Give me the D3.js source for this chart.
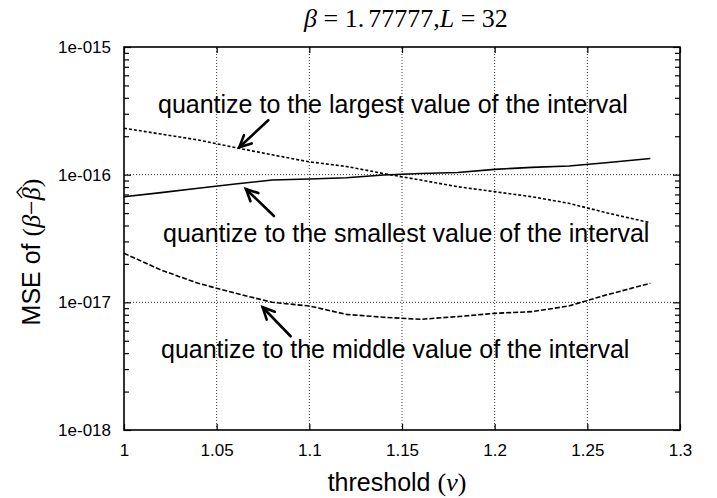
<!DOCTYPE html>
<meta charset="utf-8">
<style>
  body { margin: 0; background: #fff; }
  text { font-family: "Liberation Sans", Arial, sans-serif; fill: #000; }
  .serif { font-family: "Liberation Serif", "Times New Roman", serif; }
</style>
<script src="https://d3js.org/d3.v7.min.js"></script>
<svg id="chart" width="717" height="498"></svg>
<script>

// threshold values (x)
var thresholds = [1, 1.02, 1.04, 1.06, 1.08, 1.10, 1.12, 1.14, 1.16, 1.18, 1.20, 1.22, 1.24, 1.26, 1.284];

// MSE for each quantization rule
var largestMSE  = [2.31e-16, 2.08e-16, 1.87e-16, 1.63e-16, 1.43e-16, 1.26e-16, 1.16e-16, 1.02e-16,
                   9.08e-17, 8.05e-17, 7.36e-17, 6.72e-17, 5.97e-17, 5.04e-17, 4.2e-17];
var smallestMSE = [6.72e-17, 7.23e-17, 7.82e-17, 8.45e-17, 9.08e-17, 9.25e-17, 9.47e-17, 9.94e-17,
                   1.02e-16, 1.04e-16, 1.10e-16, 1.14e-16, 1.17e-16, 1.24e-16, 1.34e-16];
var middleMSE   = [2.42e-17, 1.79e-17, 1.41e-17, 1.18e-17, 1.0e-17, 9.36e-18, 8.05e-18, 7.64e-18,
                   7.36e-18, 7.73e-18, 8.2e-18, 8.45e-18, 9.36e-18, 1.14e-17, 1.41e-17];

var xTicks = [1, 1.05, 1.1, 1.15, 1.2, 1.25, 1.3];
var xTickLabels = ["1", "1.05", "1.1", "1.15", "1.2", "1.25", "1.3"];
var yTicks = [1e-18, 1e-17, 1e-16, 1e-15];
var yTickLabels = ["1e-018", "1e-017", "1e-016", "1e-015"];

var svg = d3.select("#chart"),
    width = +svg.attr("width"),
    height = +svg.attr("height"),
    margin = {top: 47, right: 37, bottom: 68, left: 124};

svg.append("rect").attr("width", width).attr("height", height).attr("fill", "#fff");

var x = d3.scaleLinear().domain([1, 1.3]).range([margin.left, width - margin.right]);
var y = d3.scaleLog().domain([1e-18, 1e-15]).range([height - margin.bottom, margin.top]);

var minorY = y.ticks().filter(function(v) { return yTicks.indexOf(v) < 0; });

// grid
var grid = svg.append("g").attr("stroke", "#000").attr("stroke-width", 0.8).attr("stroke-dasharray", "1,2");
grid.selectAll(".gx").data(xTicks.slice(1, -1)).enter().append("line")
    .attr("x1", function(d) { return x(d); }).attr("x2", function(d) { return x(d); })
    .attr("y1", y.range()[0]).attr("y2", y.range()[1]);
grid.selectAll(".gy").data(yTicks.slice(1, -1)).enter().append("line")
    .attr("y1", function(d) { return y(d); }).attr("y2", function(d) { return y(d); })
    .attr("x1", x.range()[0]).attr("x2", x.range()[1]);

// axes, ticks inside like matlab
function styleAxis(g) {
  g.select(".domain").remove();
  g.selectAll("line").attr("stroke", "#000").attr("stroke-width", 1.2);
  g.selectAll("text").style("font-size", "17px");
}

svg.append("g").attr("transform", "translate(0," + y.range()[0] + ")")
   .call(d3.axisBottom(x).tickValues(xTicks).tickSizeInner(-6).tickPadding(14)
         .tickFormat(function(d, i) { return xTickLabels[i]; }))
   .call(styleAxis);
svg.append("g").attr("transform", "translate(0," + y.range()[1] + ")")
   .call(d3.axisTop(x).tickValues(xTicks).tickSizeInner(-6).tickFormat(""))
   .call(styleAxis);

svg.append("g").attr("transform", "translate(" + x.range()[0] + ",0)")
   .call(d3.axisLeft(y).tickValues(yTicks).tickSizeInner(-7).tickPadding(13)
         .tickFormat(function(d, i) { return yTickLabels[i]; }))
   .call(styleAxis);
svg.append("g").attr("transform", "translate(" + x.range()[0] + ",0)")
   .call(d3.axisLeft(y).tickValues(minorY).tickSizeInner(-5).tickFormat(""))
   .call(styleAxis);
svg.append("g").attr("transform", "translate(" + x.range()[1] + ",0)")
   .call(d3.axisRight(y).tickValues(yTicks).tickSizeInner(-7).tickFormat(""))
   .call(styleAxis);
svg.append("g").attr("transform", "translate(" + x.range()[1] + ",0)")
   .call(d3.axisRight(y).tickValues(minorY).tickSizeInner(-5).tickFormat(""))
   .call(styleAxis);

// box
svg.append("rect")
   .attr("x", x.range()[0]).attr("y", y.range()[1])
   .attr("width", x.range()[1] - x.range()[0]).attr("height", y.range()[0] - y.range()[1])
   .attr("fill", "none").attr("stroke", "#000").attr("stroke-width", 1.6);

// curves
var series = [
  {values: largestMSE,  dash: "3,2"},
  {values: smallestMSE, dash: null},
  {values: middleMSE,   dash: "5,2"}
];
var line = d3.line()
    .x(function(d) { return x(d[0]); })
    .y(function(d) { return y(d[1]); });

svg.selectAll(".curve").data(series).enter().append("path")
   .attr("class", "curve")
   .attr("fill", "none").attr("stroke", "#000").attr("stroke-width", 1.6)
   .attr("stroke-dasharray", function(d) { return d.dash; })
   .attr("d", function(d) { return line(d3.zip(thresholds, d.values)); });

// annotations
var notes = [
  {text: "quantize to the largest value of the interval",  tx: 158, ty: 113, tip: [1.0622, 1.64e-16], tail: [29, -27]},
  {text: "quantize to the smallest value of the interval", tx: 163, ty: 242, tip: [1.0658, 7.72e-17], tail: [28, 27]},
  {text: "quantize to the middle value of the interval",   tx: 161, ty: 358, tip: [1.0748, 9.15e-18], tail: [28, 29]}
];
svg.selectAll(".note").data(notes).enter().append("text")
   .attr("x", function(d) { return d.tx; }).attr("y", function(d) { return d.ty; })
   .style("font-size", "25px")
   .text(function(d) { return d.text; });

notes.forEach(function(d) {
  var px = x(d.tip[0]), py = y(d.tip[1]);
  var tx = px + d.tail[0], ty = py + d.tail[1];
  var ang = Math.atan2(ty - py, tx - px), len = 13, spread = 0.45;
  var g = svg.append("g").attr("stroke", "#000").attr("stroke-width", 2.6).attr("fill", "none")
             .attr("stroke-linecap", "round");
  g.append("line").attr("x1", tx).attr("y1", ty).attr("x2", px).attr("y2", py);
  g.append("path").attr("d",
     "M" + (px + len * Math.cos(ang + spread)) + "," + (py + len * Math.sin(ang + spread)) +
     "L" + px + "," + py +
     "L" + (px + len * Math.cos(ang - spread)) + "," + (py + len * Math.sin(ang - spread)));
});

// title
var title = svg.append("text").attr("class", "serif")
   .attr("x", 406).attr("y", 27).attr("text-anchor", "middle").style("font-size", "26px");
title.append("tspan").style("font-style", "italic").text("β");
title.append("tspan").text(" = 1.");
title.append("tspan").attr("dx", 4).text("77777,");
title.append("tspan").style("font-style", "italic").text("L");
title.append("tspan").text(" = 32");

// x label
var xl = svg.append("text").attr("x", 397).attr("y", 491).attr("text-anchor", "middle").style("font-size", "25px");
xl.append("tspan").text("threshold ");
xl.append("tspan").attr("class", "serif").style("font-size", "26px").text("(");
xl.append("tspan").attr("class", "serif").style("font-style", "italic").style("font-size", "26px").text("ν");
xl.append("tspan").attr("class", "serif").style("font-size", "26px").text(")");

// y label
var ylg = svg.append("g").attr("transform", "translate(40,252) rotate(-90)");
var yl = ylg.append("text").attr("text-anchor", "middle").style("font-size", "25px");
yl.append("tspan").text("MSE of ");
yl.append("tspan").attr("class", "serif").style("font-size", "26px").text("(");
yl.append("tspan").attr("class", "serif").style("font-style", "italic").style("font-size", "26px").text("β");
yl.append("tspan").attr("class", "serif").style("font-size", "26px").text("−");
yl.append("tspan").attr("class", "serif").style("font-style", "italic").style("font-size", "26px").text("β");
yl.append("tspan").attr("class", "serif").style("font-size", "26px").text(")");

// hat over the second beta
var hatIdx = "MSE of (β−β".length - 1;
var bb = yl.node().getExtentOfChar(hatIdx);
var hx = bb.x + bb.width * 0.55, hy = bb.y + 1;
ylg.append("path")
   .attr("d", "M" + (hx - 5) + "," + (hy + 4) + "L" + (hx + 1) + "," + (hy - 1) + "L" + (hx + 6) + "," + (hy + 4))
   .attr("fill", "none").attr("stroke", "#000").attr("stroke-width", 1.3);

</script>
